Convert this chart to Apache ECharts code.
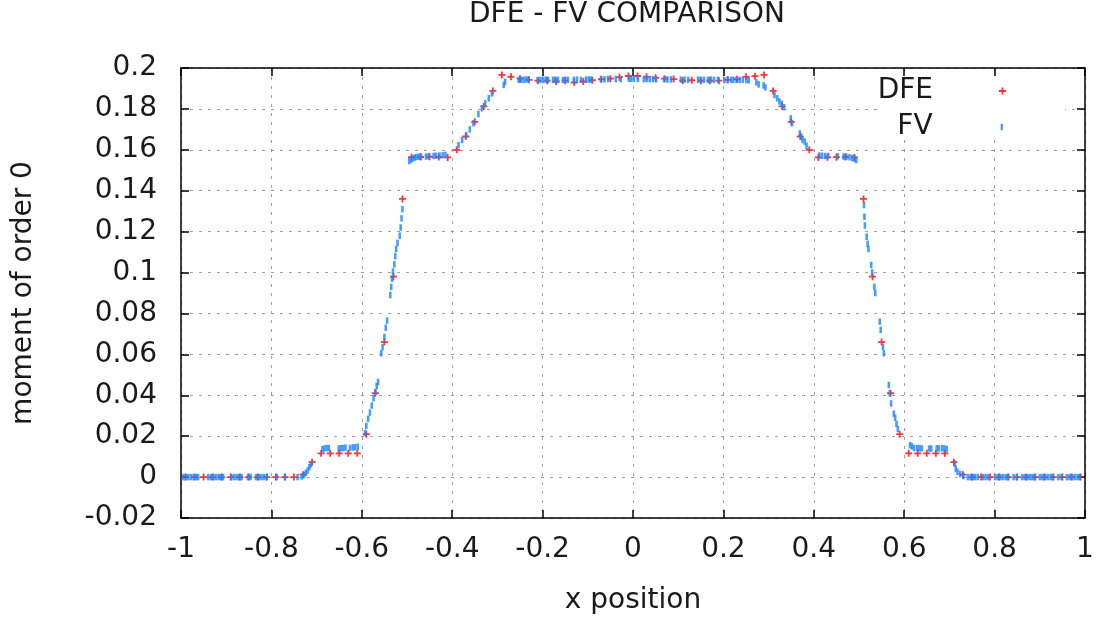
<!DOCTYPE html>
<html><head><meta charset="utf-8">
<script src="https://cdn.jsdelivr.net/npm/echarts@6/dist/echarts.min.js"></script>
<style>html,body{margin:0;padding:0;background:#fff}#c{width:1097px;height:621px}</style>
</head><body><div id="c"></div>
<script>
const titleText = 'DFE - FV COMPARISON';
const xName = 'x position';
const yName = 'moment of order 0';
const seriesNames = ['DFE', 'FV'];

const dfeX = [-0.99,-0.97,-0.95,-0.93,-0.91,-0.89,-0.87,-0.85,-0.83,-0.81,-0.79,-0.77,-0.75,-0.73,-0.71,-0.69,-0.67,-0.65,-0.63,-0.61,
  -0.59,-0.57,-0.55,-0.53,-0.51,-0.49,-0.47,-0.45,-0.43,-0.41,-0.39,-0.37,-0.35,-0.33,-0.31,-0.29,-0.27,-0.25,-0.23,-0.21,
  -0.19,-0.17,-0.15,-0.13,-0.11,-0.09,-0.07,-0.05,-0.03,-0.01,
  0.01,0.03,0.05,0.07,0.09,0.11,0.13,0.15,0.17,0.19,0.21,0.23,0.25,0.27,0.29,0.31,0.33,0.35,0.37,0.39,
  0.41,0.43,0.45,0.47,0.49,0.51,0.53,0.55,0.57,0.59,0.61,0.63,0.65,0.67,0.69,0.71,0.73,0.75,0.77,0.79,
  0.81,0.83,0.85,0.87,0.89,0.91,0.93,0.95,0.97,0.99];
const dfeY = [0,0,0,0,0,0,0,0,0,0,0,0,0,0.0012,0.0073,0.0116,0.0116,0.0116,0.0116,0.0116,
  0.021,0.041,0.066,0.098,0.136,0.1564,0.1565,0.1566,0.1565,0.1563,0.1600,0.1665,0.1737,0.1812,0.1888,0.1966,0.1957,0.1948,0.1942,0.1938,
  0.1938,0.1934,0.1938,0.1929,0.1934,0.1940,0.1945,0.1948,0.1955,0.1961,
  0.1961,0.1957,0.1952,0.1948,0.1946,0.1938,0.1940,0.1938,0.1938,0.1938,0.1942,0.1945,0.1957,0.1960,0.1966,0.1888,0.1812,0.1737,0.1665,0.1600,
  0.1563,0.1564,0.1564,0.1565,0.1563,0.136,0.098,0.066,0.041,0.021,0.0116,0.0116,0.0116,0.0116,0.0116,0.0073,0.0012,0,0,0,
  0,0,0,0,0,0,0,0,0,0];

const fvX = [-0.996,-0.990,-0.984,-0.978,-0.972,-0.966,-0.962,-0.940,-0.934,-0.928,-0.922,-0.916,-0.911,-0.907,
  -0.889,-0.883,-0.877,-0.871,-0.866,-0.852,-0.846,-0.834,-0.828,-0.822,-0.816,-0.810,-0.788,-0.770,-0.742,
  -0.733,-0.728,-0.724,-0.720,-0.716,-0.713,
  -0.687,-0.683,-0.678,-0.673,-0.651,-0.646,-0.641,-0.636,-0.626,-0.620,-0.615,-0.609,
  -0.593,-0.590,-0.586,-0.582,-0.578,-0.574,-0.570,-0.567,-0.564,
  -0.557,-0.554,-0.550,-0.547,-0.544,
  -0.537,-0.535,-0.533,-0.531,-0.528,-0.526,-0.524,-0.521,-0.516,-0.514,-0.512,-0.510,
  -0.495,-0.491,-0.487,-0.483,-0.479,-0.474,-0.469,-0.458,-0.452,-0.441,-0.436,-0.428,-0.421,-0.415,
  -0.386,-0.378,-0.369,-0.361,-0.353,-0.342,-0.334,-0.327,-0.319,-0.312,
  -0.286,-0.283,
  -0.253,-0.248,-0.242,-0.236,-0.231,-0.211,-0.205,-0.199,-0.193,-0.188,-0.177,-0.172,-0.166,-0.155,-0.150,-0.144,
  -0.131,-0.124,-0.115,-0.104,-0.098,-0.093,-0.071,-0.063,-0.055,-0.038,-0.027,-0.009,-0.004,0.002,0.011,
  0.024,0.030,0.037,0.044,0.051,0.069,0.076,0.084,0.106,0.114,0.122,0.144,0.150,0.157,0.166,0.172,0.179,0.188,
  0.202,0.209,0.217,0.222,0.229,0.236,0.243,0.251,0.256,
  0.273,0.278,0.289,0.293,
  0.313,0.319,0.324,0.329,0.334,0.349,0.352,0.369,0.372,0.375,0.380,0.384,
  0.412,0.418,0.425,0.432,0.453,0.466,0.472,0.479,0.485,0.490,0.494,
  0.511,0.512,0.513,0.517,0.519,0.521,0.527,0.529,0.534,0.536,
  0.546,0.548,0.553,0.555,
  0.566,0.568,0.571,0.577,0.580,0.583,0.586,
  0.613,0.617,0.622,0.629,0.634,0.639,0.655,0.660,0.672,0.677,0.684,0.689,0.694,
  0.712,0.714,0.718,0.724,0.731,
  0.741,0.747,0.752,0.757,0.763,0.774,0.780,0.786,0.801,0.807,0.813,0.819,0.825,0.830,0.842,0.849,
  0.861,0.867,0.873,0.879,0.884,0.889,0.900,0.906,0.912,0.918,0.924,0.929,0.941,0.948,
  0.960,0.966,0.972,0.978,0.984,0.989];
const fvY = [0,0,0,0,0,0,0,0,0,0,0,0,0,0,
  0,0,0,0,0,0,0,0,0,0,0,0,0,0,0,
  0.0003,0.0010,0.0020,0.0032,0.0048,0.0062,
  0.0136,0.0140,0.0142,0.0142,0.0140,0.0141,0.0142,0.0144,0.0142,0.0145,0.0146,0.0148,
  0.0215,0.0250,0.0285,0.0315,0.0350,0.0385,0.0415,0.0445,0.0465,
  0.0605,0.0635,0.0685,0.0730,0.0765,
  0.0890,0.0930,0.0970,0.1005,0.1040,0.1080,0.1115,0.1145,0.1180,0.1220,0.1265,0.1310,
  0.1545,0.1552,0.1558,0.1562,0.1565,0.1566,0.1567,0.1567,0.1568,0.1570,0.1571,0.1572,0.1573,0.1575,
  0.1623,0.1648,0.1672,0.1700,0.1730,0.1775,0.1803,0.1827,0.1852,0.1876,
  0.1917,0.1932,
  0.1942,0.1943,0.1942,0.1944,0.1943,0.1941,0.1942,0.1942,0.1943,0.1942,0.1942,0.1943,0.1942,0.1941,0.1942,0.1942,
  0.1942,0.1943,0.1942,0.1943,0.1944,0.1943,0.1945,0.1945,0.1946,0.1946,0.1946,0.1947,0.1947,0.1948,0.1947,
  0.1946,0.1946,0.1946,0.1946,0.1945,0.1945,0.1944,0.1944,0.1943,0.1943,0.1942,0.1943,0.1942,0.1942,0.1942,0.1943,0.1942,0.1942,
  0.1941,0.1942,0.1942,0.1942,0.1943,0.1942,0.1942,0.1941,0.1940,
  0.1930,0.1920,0.1915,0.1905,
  0.1868,0.1852,0.1836,0.1825,0.1808,0.1754,0.1730,0.1680,0.1665,0.1648,0.1640,0.1620,
  0.1572,0.1571,0.1570,0.1570,0.1568,0.1567,0.1566,0.1564,0.1560,0.1556,0.1550,
  0.1330,0.1273,0.1230,0.1175,0.1140,0.1115,0.1037,0.1000,0.0930,0.0900,
  0.0760,0.0720,0.0637,0.0605,
  0.0450,0.0410,0.0360,0.0310,0.0290,0.0260,0.0235,
  0.0156,0.0150,0.0142,0.0142,0.0141,0.0140,0.0140,0.0140,0.0141,0.0140,0.0141,0.0140,0.0138,
  0.0065,0.0040,0.0026,0.0015,0.0005,
  0,0,0,0,0,0,0,0,0,0,0,0,0,0,0,0,
  0,0,0,0,0,0,0,0,0,0,0,0,0,0,
  0,0,0,0,0,0];

const FONT = 'DejaVu Sans';
const TXT = '#1a1a1a';
const FS = 28;
const plusPath = 'path://M0,2.6H7V4.4H0Z M2.6,0H4.4V7H2.6Z';

const dfeData = dfeX.map((x, i) => [x, dfeY[i]]);
const fvData = fvX.map((x, i) => [x, fvY[i]]);

const gridLine = { show: true, lineStyle: { color: '#a0a0a0', width: 1, type: [3, 6] } };
const frameLine = { show: true, onZero: false, lineStyle: { color: '#000', width: 1.5 } };
const tick = { show: true, inside: true, length: 8, lineStyle: { color: '#000', width: 1.5 } };

const chart = echarts.init(document.getElementById('c'), null, { renderer: 'canvas' });
chart.setOption({
  animation: false,
  backgroundColor: '#fff',
  title: {
    text: titleText, left: 469, top: 1, padding: 0,
    textStyle: { fontFamily: FONT, fontSize: FS, fontWeight: 'normal', color: TXT }
  },
  grid: { left: 181, right: 12, top: 68, bottom: 103, containLabel: false },
  xAxis: [{
    type: 'value', min: -1, max: 1, interval: 0.2, position: 'bottom',
    name: xName, nameLocation: 'middle', nameGap: 69,
    nameTextStyle: { fontFamily: FONT, fontSize: FS, color: TXT },
    axisLine: frameLine, axisTick: tick,
    axisLabel: { margin: 18, fontFamily: FONT, fontSize: FS, color: TXT,
      formatter: v => String(Math.round(v * 10) / 10) },
    splitLine: gridLine
  }, {
    type: 'value', min: -1, max: 1, interval: 0.2, position: 'top',
    axisLine: frameLine, axisTick: tick,
    axisLabel: { show: false }, splitLine: { show: false }
  }],
  yAxis: [{
    type: 'value', min: -0.02, max: 0.2, interval: 0.02, position: 'left',
    name: yName, nameLocation: 'middle', nameGap: 143, nameRotate: 90,
    nameTextStyle: { fontFamily: FONT, fontSize: FS, color: TXT },
    axisLine: frameLine, axisTick: tick,
    axisLabel: { margin: 24, fontFamily: FONT, fontSize: FS, color: TXT,
      formatter: v => String(Math.round(v * 100) / 100) },
    splitLine: gridLine
  }, {
    type: 'value', min: -0.02, max: 0.2, interval: 0.02, position: 'right',
    axisLine: frameLine, axisTick: tick,
    axisLabel: { show: false }, splitLine: { show: false }
  }],
  graphic: { elements: [{
    type: 'rect', silent: true, z: 1,
    shape: { x: 880, y: 77, width: 185, height: 62 },
    style: { fill: '#fff' }
  }] },
  legend: [{
    data: [seriesNames[0]], orient: 'vertical', align: 'right', right: 91, top: 77, padding: 0,
    itemWidth: 7, itemHeight: 7, icon: plusPath, selectedMode: false,
    textStyle: { fontFamily: FONT, fontSize: FS, color: TXT, padding: [0, 61, 0, 0] }
  }, {
    data: [seriesNames[1]], orient: 'vertical', align: 'right', right: 94, top: 113, padding: 0,
    itemWidth: 2.4, itemHeight: 6.5, icon: 'rect', selectedMode: false,
    textStyle: { fontFamily: FONT, fontSize: FS, color: TXT, padding: [0, 63, 0, 0] }
  }],
  series: [{
    name: seriesNames[0], type: 'scatter', xAxisIndex: 0, yAxisIndex: 0,
    symbol: plusPath, symbolSize: 7, itemStyle: { color: '#ff0000' },
    data: dfeData, z: 2
  }, {
    name: seriesNames[1], type: 'scatter', xAxisIndex: 0, yAxisIndex: 0,
    symbol: 'rect', symbolSize: [2.6, 6.5], itemStyle: { color: '#1a86ff' },
    data: fvData, z: 3
  }]
});
</script>
</body></html>
